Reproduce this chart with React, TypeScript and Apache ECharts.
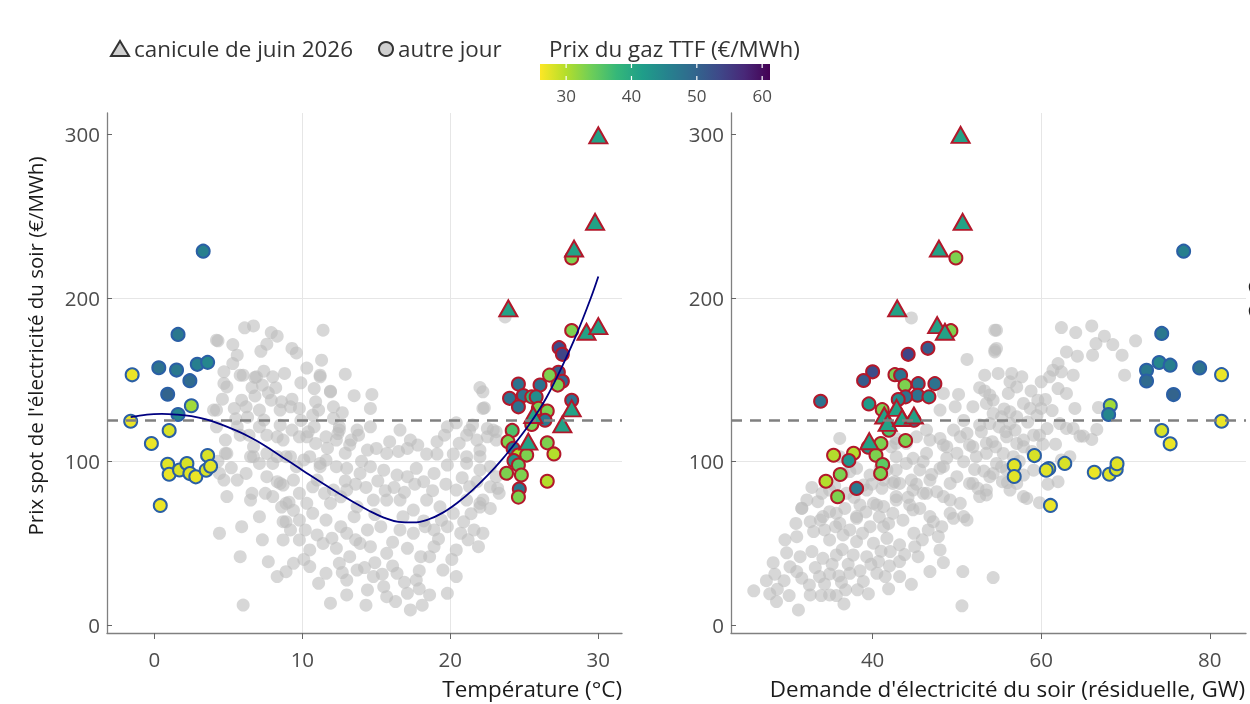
import { useEffect, useRef } from 'react';
import * as echarts from 'echarts';

const FONT = "'Open Sans', 'Noto Sans', sans-serif";

// tick labels
const tempTicks = [0, 10, 20, 30];
const demandTicks = [40, 60, 80];
const priceTicks = [0, 100, 200, 300];
const gasTicks = [30, 40, 50, 60];
const gasMin = 26;
const gasMax = 61.2;
const priceThreshold = 125;

// viridis, reversed (cheap gas = yellow)
const VIRIDIS_REV = ['#fde725', '#b5de2b', '#6ece58', '#35b779', '#1f9e89', '#26828e', '#31688e', '#3e4989', '#482878', '#440154'];

// all other days: [temperature, price]
const tempGray: number[][] = [
  [6.1, 181.6], [6.7, 182.8], [7.9, 178.7], [8.3, 176.5], [11.4, 180.2], [4.3, 173.7], [5.3, 171.4], [7.2, 167.3], [7.6, 171.6],
  [9.3, 169], [9.6, 166.3], [5.6, 164.9], [5.3, 159.8], [11.3, 161.8], [4.7, 154.7], [5.8, 152.7], [6.8, 151.3], [7.4, 155.1],
  [8, 151.7], [8.8, 153.7], [12.9, 153.3], [11.2, 152.7], [4.9, 145.5], [6.6, 145.1], [7.3, 146.6], [7.7, 141.9], [10.8, 144.5],
  [11.9, 142.9], [13.5, 140.1], [14.7, 140.9], [4.6, 138], [5.9, 137.4], [7.9, 137.4], [8.6, 136.4], [9.3, 138], [10.9, 136.4],
  [14.6, 132.3], [4.2, 131.3], [5.4, 132.3], [6.2, 133.3], [7.1, 131.3], [8.5, 131.3], [9.2, 133.3], [9.8, 132.3], [11.1, 131.3],
  [12.7, 129.7], [22.2, 132.3], [22, 145.1], [22.2, 142.5], [7.4, 125.2], [8.5, 122.1], [10.8, 121.1], [12.1, 126.2], [12.5, 121.1],
  [13.7, 119.1], [14.6, 121.1], [16.6, 119.1], [19.8, 121.1], [20.4, 123.5], [21.3, 119.1], [22.5, 120.1], [23.1, 118.1], [4.8, 113],
  [5.8, 116], [6.7, 108.9], [7.6, 116], [8.7, 113], [9.8, 115], [10.9, 110.9], [12.3, 113], [13.3, 113], [14.4, 106.9], [15, 107.9],
  [15.7, 104.8], [17.1, 107.9], [17.8, 109.9], [18.4, 104.4], [19.1, 104.4], [20.2, 104.4], [21.1, 102.8], [22, 106.9], [22.5, 115],
  [4.8, 104.8], [6.5, 102.8], [7.1, 98.7], [7.6, 104.8], [8.3, 102.8], [9.2, 102.8], [9.6, 96.7], [10.5, 102.8], [11.2, 96.7],
  [11.6, 100.7], [12.3, 96.7], [13, 95.7], [13.9, 92.6], [14.6, 96.7], [15.5, 94.6], [16.4, 91.6], [17.1, 90.6], [17.7, 95.7],
  [18.2, 87.5], [18.9, 92.6], [19.8, 97.7], [20.4, 82.4], [21.8, 87.5], [22.7, 84.4], [4.4, 92.6], [5.6, 88.5], [6.2, 92.6],
  [6.6, 80.4], [7.5, 80.4], [8.3, 87.5], [8.7, 85.5], [9.4, 88.5], [9.8, 80.4], [10.7, 84.4], [11.5, 80.4], [12.6, 78.3], [13, 82.4],
  [13.7, 72.2], [14.8, 76.3], [15.7, 76.3], [16.6, 76.3], [17.5, 70.2], [18.4, 76.3], [19.3, 72.2], [20.2, 68.2], [21.1, 76.3],
  [22, 74.3], [22.7, 71.2], [4.4, 56], [8.7, 63.1], [9.2, 58], [9.8, 64.1], [10.7, 68.2], [11.6, 64.1], [12.6, 60], [13.5, 66.1],
  [14.4, 58], [15.3, 60], [16.6, 58], [17.5, 56], [18.9, 58], [19.8, 60], [20.7, 56], [21.6, 58], [22.2, 56], [8.7, 51.9], [9.8, 51.9],
  [10.5, 45.8], [11.4, 49.8], [12.3, 46.8], [13.2, 41.7], [13.9, 49.8], [14.6, 47.8], [15.7, 43.7], [17.1, 46.8], [18, 41.7],
  [18.9, 47.8], [20.4, 45.8], [21.9, 47.8], [5.8, 41.7], [7.7, 38.6], [8.3, 29.5], [8.9, 32.5], [9.4, 37.6], [10.5, 35.6],
  [11.1, 25.4], [11.6, 31.5], [12.5, 37.6], [13, 27.4], [13.7, 33.5], [14.8, 29.5], [15.5, 23.3], [16.4, 31.5], [17.1, 19.3],
  [17.7, 27.4], [18.6, 41.7], [19.5, 33.5], [20.4, 29.5], [6, 12.1], [11.9, 13.2], [13, 18.3], [14.4, 21.3], [15.7, 17.2],
  [17.3, 9.1], [18.6, 18.3], [19.8, 19.3], [16.3, 14.2], [22.3, 132.7], [21.5, 122.2], [21.1, 116], [21.8, 113], [22.9, 119.1],
  [23.1, 113], [22, 102.8], [21.1, 98.8], [22.7, 96.7], [23.1, 90.6], [22, 94.7], [23.2, 83.5], [23.3, 80.4], [22.2, 76.4],
  [21.3, 84.5], [23.7, 188.3], [22, 72], [4.2, 174.1], [6, 152.7], [4.7, 147.6], [6.9, 151.7], [11.2, 151.7], [11.9, 142.5],
  [10.7, 128.3], [12.1, 133.3], [4, 131.3], [4.2, 121.1], [5.6, 121.1], [6.4, 116], [7.1, 121.1], [8.3, 115], [9.3, 119.1],
  [10.3, 115], [11.6, 115], [12.5, 119.1], [4.9, 104.8], [6.7, 102.8], [8, 98.7], [8.9, 102.8], [10.1, 100.8], [11.2, 98.7],
  [4.7, 88.5], [7.6, 90.6], [8.5, 86.5], [11, 88.5], [12.1, 82.4], [4.9, 78.4], [6.5, 76.3], [8, 78.4], [8.9, 74.3], [10.3, 74.3],
  [11.9, 74.3], [7.1, 66.1], [8.9, 63.1], [16.1, 50.5], [19.2, 52.5], [14.9, 67.4], [16.8, 66.1], [18.2, 63.5],
  [12.4, 117], [13.2, 110], [13.8, 116], [15.9, 112], [16.5, 106], [17.3, 113], [19.1, 112], [19.6, 116], [20.6, 111], [8.6, 72],
  [9.4, 70], [9.1, 75], [14.2, 35], [14.9, 38], [15.4, 31], [16.1, 36], [17.9, 33], [18.3, 60], [19.4, 64], [20.9, 63], [21.4, 68],
  [16.2, 84], [16.9, 81], [17.6, 86], [18.8, 82], [19.7, 86], [20.8, 90], [12.9, 88], [13.6, 86], [14.3, 84], [15.1, 88], [15.6, 82],
  [10.2, 58], [11, 55], [12, 53], [13, 56], [13.6, 52], [5.2, 96], [4.3, 100], [5.5, 126], [6.3, 127], [9.9, 125], [10.4, 118],
  [11.7, 108], [12.9, 105], [14, 100], [6.8, 140], [8.2, 145], [9.9, 148], [10.3, 157], [5.9, 60], [7.3, 52], [10.1, 40], [12.7, 32],
  [14.3, 12], [18.1, 12], [17.9, 22], [16.9, 26], [20.1, 40], [21.2, 52],
];

// all other days: [residual demand, price]
const demandGray: number[][] = [
  [25.9, 20.8], [27.8, 19], [28.7, 21.8], [28.6, 14.2], [30.1, 17.9], [31.2, 9.1], [32.5, 24.4], [32.6, 18.3], [33.9, 17.9],
  [34.9, 18.3], [35.7, 17.9], [36.6, 12.8], [36.8, 21.4], [38.2, 21.4], [31, 32.6], [31.6, 28.5], [33.7, 29.5], [34.9, 31.1],
  [36, 29.9], [37.3, 31.5], [38.9, 26.5], [40.5, 31.5], [41.5, 29.5], [43.2, 29.5], [44.6, 24.8], [31.4, 41.7], [32.8, 44.8],
  [34.1, 40.7], [35.7, 42.7], [37.7, 42.7], [39.3, 41.7], [40.7, 38.7], [42.1, 44.8], [43.2, 38.7], [45.4, 41.7], [46.8, 32.6],
  [48, 45.8], [48.4, 38.1], [50.7, 32.6], [54.3, 28.9], [50.6, 11.6], [31, 53.9], [33, 57], [34.9, 51.9], [36.5, 55], [38.1, 50.9],
  [40.1, 49.9], [41.7, 52.9], [43.2, 48.9], [45, 47.8], [32.6, 63.1], [34.1, 66.2], [36.1, 62.1], [38.1, 65.1], [39.7, 60],
  [41.3, 60], [42.4, 68.2], [44.4, 73.3], [45.6, 71.2], [47.2, 63.1], [48.2, 60], [49.6, 65.1], [50.8, 66.2], [31.6, 71.2],
  [33.5, 75.3], [34.9, 69.2], [36.7, 71.2], [38.5, 73.3], [40.5, 73.3], [42.8, 76.3], [46, 80.4], [47.6, 81.4], [49.2, 76.3],
  [34.9, 82.4], [36.9, 80.4], [38.9, 85.5], [41.1, 83.5], [42.6, 87.5], [44.6, 88.5], [46.8, 88.5], [49.2, 86.5], [51.5, 86.5],
  [52.5, 83.5], [53.9, 90.6], [55.9, 94.7], [57.1, 86.5], [57.9, 78.4], [53.5, 79.4], [36.5, 92.6], [38.1, 95.7], [39.7, 91.6],
  [41.7, 94.7], [44, 98.7], [46, 99.8], [48.4, 96.7], [50.8, 99.8], [52.3, 102.8], [54.7, 98.7], [56.7, 102.8], [57.9, 108.9],
  [48.4, 109.9], [46.8, 113], [45.2, 115], [42.8, 111], [51.5, 109.9], [53.5, 111], [55.9, 115], [50.4, 115], [29.5, 27],
  [30.2, 35.5], [29.8, 44], [28.4, 31],
  [62.4, 181.8], [64.1, 178.7], [66, 182.8], [66.5, 172], [67.5, 176.5], [68.5, 171.4], [71.2, 173.7], [69.6, 164.9], [54.7, 180.2],
  [54.5, 166.9], [54.7, 169], [63, 166.9], [64.3, 164.3], [66.1, 164.9], [62, 159.8], [61.4, 155.7], [62.4, 154.7], [63.8, 152.7],
  [60, 148.6], [61, 151.7], [62, 144.5], [63, 141.5], [69.9, 152.7], [54.9, 153.7], [56.5, 153.7], [57.7, 151.7], [56.3, 148.6],
  [57.1, 145.5], [56.1, 141.5], [53.9, 140.5], [54.3, 137.4], [57.9, 135.4], [58.7, 132.3], [59.6, 137.4], [60.5, 137.8],
  [60, 132.3], [64, 132.3], [66.8, 132.9], [56.3, 130.3], [55.3, 127.2], [57.1, 127.2], [53.9, 123.1], [56.3, 123.1],
  [62.2, 123.1], [63, 120.1], [63.8, 120.1], [66.6, 119.5], [55.8, 118.1], [59.1, 116], [59.8, 116], [64.6, 115.4], [65, 115.4],
  [66, 113.4], [61.7, 110.5], [60.2, 110.5], [54.6, 108.9], [55.5, 104.8], [57.1, 110.9], [57.9, 113], [55.3, 96.7], [54.3, 92.6],
  [55.4, 87.5], [56.3, 82.4], [58.3, 77.3], [59.8, 74.7], [62, 87.5], [62.4, 100.8], [63.4, 102.8], [57.9, 91.6], [59.1, 94.6],
  [44.6, 187.7], [51.2, 162.3], [54.5, 180.2], [54.5, 168], [53.3, 152.7], [52.7, 145], [50.2, 140.9], [48.4, 141.5], [49.8, 133.4],
  [48, 131.3], [51.9, 133.4], [53.5, 135.4], [54.3, 129.3], [52.7, 122.2], [49.6, 119.1], [51.2, 117.1], [46.4, 119.1], [48, 114],
  [48.8, 108.9], [51.9, 108.9], [53.5, 104.9], [46.4, 104.9], [44.8, 101.8], [45.6, 94.7], [48, 95.7], [50, 90.6], [51.9, 86.5],
  [53.5, 82.4], [42.8, 102.8], [42.8, 94.7], [40.9, 95.7], [41.3, 88.6], [43.2, 86.5], [44.8, 82.4], [46.4, 80.4], [48.4, 78.4],
  [50.4, 74.3], [52.7, 78.4], [39.3, 82.4], [40.1, 74.3], [37.3, 93.7], [36.1, 102.8], [36.1, 114], [34, 80.4], [32.2, 76.4],
  [31.6, 71.3], [33.8, 64.1], [35.7, 68.2], [38.1, 66.2], [41.3, 72.3], [42.8, 78.4], [44.8, 70.3], [46.8, 66.2], [49.2, 68.2],
  [51.2, 64.1], [42.4, 86.5], [42.2, 108.9], [42.8, 114], [44, 111],
  [33.2, 35], [34.3, 25], [35.2, 37], [36.4, 46], [37.1, 37], [38.5, 33], [39.8, 37], [41, 45], [42, 36], [43.8, 43], [44.9, 56],
  [45.9, 52], [46.6, 58], [47.8, 54], [38.8, 56], [37.3, 58], [35.6, 60], [34.3, 58], [39.2, 69], [40.8, 66], [41.9, 62], [43.6, 64],
  [44.2, 78], [45.2, 86], [47, 92], [48.8, 102], [50, 105], [52.1, 95], [53.2, 94], [54.2, 112], [55, 121], [56.9, 119], [58.4, 124],
  [58.8, 143], [59.5, 128], [61.3, 131], [60.7, 120], [52.9, 118], [50.8, 125], [53.3, 143], [55.6, 132], [57.4, 100], [58.9, 106],
  [56, 87], [60.8, 86], [35.5, 85], [37.8, 78], [39.9, 86], [32.8, 84], [30.9, 62], [29.6, 52], [28.2, 38], [27.4, 27], [36.3, 26],
  [39.5, 19], [41.9, 22],
];

// highlighted days: [x, price, gas price TTF]
const tempCold: number[][] = [
  [-1.5, 152.9, 27], [0.3, 157.2, 48], [1.5, 155.8, 47], [2.9, 159.3, 46], [3.6, 160.5, 45], [2.4, 149.3, 49], [0.9, 141, 50],
  [1.6, 177.6, 47], [2.5, 134, 31], [1.6, 128.6, 45], [-1.6, 124.5, 27], [1.0, 118.8, 28], [-0.2, 110.9, 27], [0.9, 98.2, 27.5],
  [1.0, 92.1, 27], [1.7, 94.7, 28], [2.2, 98.6, 28], [2.4, 92.5, 27.5], [2.8, 90.5, 27], [3.5, 94.6, 28], [3.6, 103.5, 28],
  [3.8, 97, 27.5], [0.4, 73, 27], [3.3, 228.5, 46],
];
const tempHot: number[][] = [
  [28.2, 224.4, 33], [28.2, 180, 33], [27.35, 169.5, 53], [27.57, 165.4, 54], [27.3, 154.4, 51], [26.7, 152.7, 33],
  [27.57, 148.9, 50], [27.26, 146.6, 33], [24.6, 147.2, 48], [26.06, 146.6, 48], [24.0, 138.5, 48], [24.93, 140.2, 48],
  [24.6, 133.3, 48], [25.5, 139.4, 38], [25.8, 139.4, 44], [25.95, 132.4, 33], [26.55, 130.7, 33], [28.2, 137.3, 48],
  [26.4, 125.1, 47], [25.5, 122.5, 33], [24.18, 118.9, 36], [23.9, 112, 33], [24.24, 107.9, 47], [24.6, 103.8, 30],
  [25.16, 103.8, 33], [24.3, 100.4, 43], [24.6, 97.7, 35], [26.55, 111.3, 33], [27.0, 104.5, 30], [23.8, 92.7, 33],
  [24.8, 91.6, 33], [26.55, 87.8, 30], [24.66, 83.1, 47], [24.6, 78.1, 33],
];
const tempHeatwave: number[][] = [
  [30.0, 299.3, 41], [29.78, 246.4, 41], [28.36, 230.1, 41], [23.92, 193.5, 41], [29.2, 179.2, 41], [30.0, 182.7, 41],
  [28.2, 132.4, 41], [27.57, 122.6, 41], [25.27, 112, 41], [25.6, 128.3, 41],
];
const demandCold: number[][] = [
  [74.3, 178.2, 47], [74, 160.4, 45], [75.3, 158.8, 46], [72.5, 155.7, 47], [72.5, 149.1, 49], [78.8, 157.1, 48], [75.7, 140.8, 50],
  [81.4, 153, 27], [81.4, 124.5, 27], [68.2, 134.1, 31], [68, 128.6, 45], [74.3, 118.8, 28], [75.3, 110.7, 27], [59.2, 103.5, 28],
  [56.8, 97.4, 27.5], [56.8, 90.7, 27.5], [60.9, 95.6, 28], [60.6, 94.6, 27.5], [62.8, 98.7, 28], [66.3, 93.3, 27],
  [68.1, 92.1, 27.5], [68.9, 95, 28], [69, 98.5, 27.5], [61.1, 73, 27], [76.9, 228.5, 46],
];
const demandHot: number[][] = [
  [49.88, 224.4, 33], [49.29, 179.9, 33], [46.56, 169.1, 51], [44.22, 165.4, 54], [40.0, 154.7, 53], [38.93, 149.4, 51],
  [42.65, 153, 33], [43.32, 152.6, 48], [43.83, 146.3, 33], [45.41, 147.5, 48], [47.39, 147.5, 48], [33.83, 136.7, 48],
  [39.56, 135.1, 42], [45.34, 140.4, 48], [46.68, 139.4, 44], [43.91, 139.4, 48], [43.04, 137.8, 44], [41.14, 131.6, 33],
  [44.9, 125.1, 47], [41.93, 119, 36], [43.91, 112.7, 33], [40.98, 110.9, 33], [39.48, 108.6, 43], [40.4, 103.7, 33],
  [35.37, 103.7, 30], [37.74, 104.9, 30], [37.18, 100.5, 43], [41.19, 98, 35], [40.95, 92.5, 33], [36.16, 91.9, 33],
  [34.46, 87.8, 30], [38.1, 83.4, 47], [35.85, 78.3, 33],
];
const demandHeatwave: number[][] = [
  [50.44, 299.6, 41], [50.68, 246.4, 41], [47.87, 230.1, 41], [42.92, 193.5, 41], [47.66, 183.3, 41], [48.58, 179.2, 41],
  [42.85, 132.7, 41], [41.38, 128, 41], [41.78, 123.5, 41], [43.5, 126.5, 41], [44.9, 128, 41], [39.6, 112.3, 41],
];

// smoothed price vs temperature
const trendCurve: number[][] = [
  [-1.6, 127], [-0.5, 128.6], [0.5, 129], [1.5, 128.6], [2.5, 127.6], [3.5, 125.6], [4.5, 122.6], [5.5, 118.9], [6.5, 114.6],
  [7.5, 109.3], [8.5, 103.4], [9.5, 97.6], [10.5, 91.6], [11.5, 85.8], [12.5, 80.2], [13.5, 74.8], [14.5, 69.8], [15.5, 65.6],
  [16.5, 63], [17.5, 62.6], [18.5, 64.4], [19.5, 68.6], [20.5, 74.8], [21.5, 82.4], [22.5, 91.2], [23.5, 101.2], [24.5, 112.4],
  [25.5, 124.6], [26.5, 139], [27.5, 157], [28.5, 177], [29.5, 200], [30, 213],
];

const RED = '#b2182b';
const BLUE = '#2a5fa5';

function valueAxis(gridIndex: number, min: number, max: number, ticks: number[], isY: boolean) {
  return {
    type: 'value',
    gridIndex,
    min,
    max,
    splitNumber: 3,
    axisLine: { show: true, onZero: false, lineStyle: { color: '#808080', width: 1.3 } },
    axisTick: { show: true, inside: isY, length: isY ? 5 : 6, customValues: ticks, lineStyle: { color: '#666' } },
    axisLabel: { customValues: ticks, color: '#4d4d4d', fontSize: 20.5, fontFamily: FONT, margin: isY ? 7 : 15 },
    splitLine: { show: true, showMinLine: false, showMaxLine: false, lineStyle: { color: '#e6e6e6', width: 1 } },
  };
}

function dashed() {
  return {
    silent: true,
    symbol: 'none',
    label: { show: false },
    lineStyle: { color: '#808080', type: [11, 8], width: 2.5 },
    data: [{ yAxis: priceThreshold }],
  };
}

function days(name: string, idx: number, data: number[][], border: string, tri: boolean) {
  return {
    name,
    type: 'scatter',
    xAxisIndex: idx,
    yAxisIndex: idx,
    symbol: tri ? 'triangle' : 'circle',
    symbolSize: tri ? [18, 16] : 13,
    z: tri ? 4 : 3,
    itemStyle: { borderColor: border, borderWidth: 2, opacity: 1 },
    data,
  };
}

export default function App() {
  const chartRef = useRef<HTMLDivElement>(null);

  useEffect(() => {
    if (!chartRef.current) return;
    const chart = echarts.init(chartRef.current, null, { renderer: 'svg' });

    const barX = 540;
    const barW = 230;
    const gasPx = (v: number) => barX + ((v - gasMin) / (gasMax - gasMin)) * barW;
    const gradient = new echarts.graphic.LinearGradient(
      0, 0, 1, 0,
      VIRIDIS_REV.map((c, i) => ({ offset: i / (VIRIDIS_REV.length - 1), color: c })),
    );

    const gasTickEls = gasTicks.flatMap((v) => [
      { type: 'line', shape: { x1: gasPx(v), y1: 64, x2: gasPx(v), y2: 68 }, style: { stroke: '#fff', lineWidth: 1.2 } },
      { type: 'line', shape: { x1: gasPx(v), y1: 76, x2: gasPx(v), y2: 80 }, style: { stroke: '#fff', lineWidth: 1.2 } },
      {
        type: 'text', x: gasPx(v), y: 95,
        style: { text: String(v), fill: '#4d4d4d', fontSize: 17, fontFamily: FONT, textAlign: 'center', textVerticalAlign: 'middle' },
      },
    ]);

    const option: any = {
      animation: false,
      textStyle: { fontFamily: FONT },
      grid: [
        { left: 107, top: 113, width: 515, height: 520 },
        { left: 731, top: 113, width: 515, height: 520 },
      ],
      xAxis: [valueAxis(0, -3.2, 31.6, tempTicks, false), valueAxis(1, 23.2, 84.3, demandTicks, false)],
      yAxis: [valueAxis(0, -5, 313, priceTicks, true), valueAxis(1, -5, 313, priceTicks, true)],
      visualMap: {
        type: 'continuous',
        show: false,
        min: gasMin,
        max: gasMax,
        dimension: 2,
        seriesIndex: [3, 4, 5, 6, 7, 8],
        inRange: { color: VIRIDIS_REV },
      },
      series: [
        {
          name: 'autres jours (température)',
          type: 'scatter', xAxisIndex: 0, yAxisIndex: 0, symbolSize: 13, z: 1,
          itemStyle: { color: '#bdbdbd', opacity: 0.6 },
          data: tempGray,
          markLine: dashed(),
        },
        {
          name: 'autres jours (demande)',
          type: 'scatter', xAxisIndex: 1, yAxisIndex: 1, symbolSize: 13, z: 1,
          itemStyle: { color: '#bdbdbd', opacity: 0.6 },
          data: demandGray,
          markLine: dashed(),
        },
        {
          name: 'tendance',
          type: 'line', xAxisIndex: 0, yAxisIndex: 0, smooth: 0.4, showSymbol: false, z: 10,
          lineStyle: { color: '#000080', width: 1.8 },
          data: trendCurve,
        },
        days('froid T', 0, tempCold, BLUE, false),
        days('chaud T', 0, tempHot, RED, false),
        days('canicule T', 0, tempHeatwave, RED, true),
        days('froid D', 1, demandCold, BLUE, false),
        days('chaud D', 1, demandHot, RED, false),
        days('canicule D', 1, demandHeatwave, RED, true),
      ],
      graphic: [
        {
          type: 'polygon', shape: { points: [[111, 56], [129, 56], [120, 41]] },
          style: { fill: '#cfcfcf', stroke: '#333', lineWidth: 2 },
        },
        {
          type: 'text', x: 134, y: 48,
          style: { text: 'canicule de juin 2026', fill: '#333', fontSize: 22.4, fontFamily: FONT, textVerticalAlign: 'middle' },
        },
        { type: 'circle', shape: { cx: 386, cy: 49, r: 7 }, style: { fill: '#cfcfcf', stroke: '#333', lineWidth: 2 } },
        {
          type: 'text', x: 398, y: 48,
          style: { text: 'autre jour', fill: '#333', fontSize: 22.4, fontFamily: FONT, textVerticalAlign: 'middle' },
        },
        {
          type: 'text', x: 549, y: 48,
          style: { text: 'Prix du gaz TTF (€/MWh)', fill: '#333', fontSize: 22.4, fontFamily: FONT, textVerticalAlign: 'middle' },
        },
        { type: 'rect', shape: { x: barX, y: 64, width: barW, height: 16 }, style: { fill: gradient } },
        ...gasTickEls,
        {
          type: 'text', x: 35, y: 346, rotation: Math.PI / 2,
          style: {
            text: "Prix spot de l'électricité du soir (€/MWh)", fill: '#1a1a1a', fontSize: 20.5, fontFamily: FONT,
            textAlign: 'center', textVerticalAlign: 'middle',
          },
        },
        {
          type: 'text', x: 622, y: 688,
          style: { text: 'Température (°C)', fill: '#1a1a1a', fontSize: 22.4, fontFamily: FONT, textAlign: 'right', textVerticalAlign: 'middle' },
        },
        {
          type: 'text', x: 1245, y: 688,
          style: {
            text: "Demande d'électricité du soir (résiduelle, GW)", fill: '#1a1a1a', fontSize: 22.4, fontFamily: FONT,
            textAlign: 'right', textVerticalAlign: 'middle',
          },
        },
        // second legend, cut off by the page edge
        { type: 'circle', shape: { cx: 1257, cy: 72, r: 7 }, style: { fill: '#e57f96', stroke: 'none' } },
        { type: 'circle', shape: { cx: 1257, cy: 287, r: 7 }, style: { fill: 'none', stroke: '#222', lineWidth: 2.5 } },
        { type: 'circle', shape: { cx: 1257, cy: 311, r: 7 }, style: { fill: 'none', stroke: '#222', lineWidth: 2.5 } },
      ],
    };

    chart.setOption(option);

    return () => {
      chart.dispose();
    };
  }, []);

  return <div ref={chartRef} style={{ position: 'fixed', left: 0, top: 0, width: 1250, height: 704 }} />;
}
